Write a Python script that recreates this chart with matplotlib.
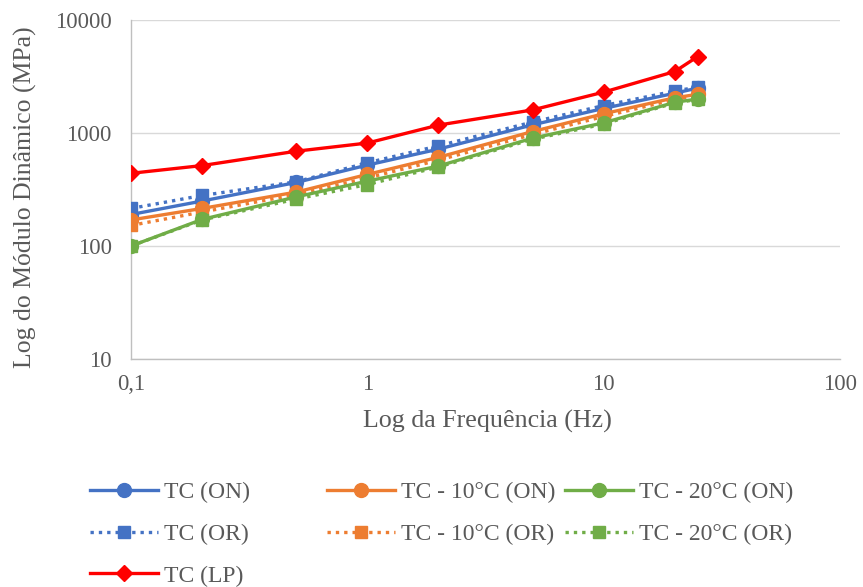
import matplotlib
matplotlib.use("Agg")
import matplotlib.pyplot as plt
from matplotlib.ticker import FixedLocator, FuncFormatter, NullLocator

# frequency (Hz) and dynamic modulus (MPa)
freq = [0.1, 0.2, 0.5, 1, 2, 5, 10, 20, 25]
tc_on = [190, 250, 365, 520, 720, 1180, 1650, 2250, 2500]
tc10_on = [170, 215, 300, 430, 610, 1030, 1480, 2050, 2200]
tc20_on = [100, 172, 272, 375, 510, 900, 1230, 1870, 2000]
tc_or = [215, 280, 370, 545, 770, 1250, 1750, 2350, 2550]
tc10_or = [152, 200, 285, 400, 575, 970, 1400, 1980, 2150]
tc20_or = [100, 170, 260, 350, 500, 880, 1200, 1850, 1980]
tc_lp = [440, 515, 690, 815, 1175, 1600, 2300, 3500, 4750]

x_ticks = [0.1, 1, 10, 100]
y_ticks = [10, 100, 1000, 10000]

BLUE, ORANGE, GREEN, RED = "#4472C4", "#ED7D31", "#70AD47", "#FF0000"
TXT = "#595959"
plt.rcParams["font.family"] = ["Liberation Serif", "DejaVu Serif"]

W, H = 863, 587
fig = plt.figure(figsize=(W / 100, H / 100), dpi=100)
ax = fig.add_axes([131 / W, 1 - 359 / H, (840 - 131) / W, (359 - 20) / H])

dot = (0, (1, 1.5))
series = [
    ("TC (OR)", tc_or, BLUE, "s", dot, 3),
    ("TC - 10°C (OR)", tc10_or, ORANGE, "s", dot, 3),
    ("TC - 20°C (OR)", tc20_or, GREEN, "s", dot, 3),
    ("TC (ON)", tc_on, BLUE, "o", "-", 4),
    ("TC - 10°C (ON)", tc10_on, ORANGE, "o", "-", 4),
    ("TC - 20°C (ON)", tc20_on, GREEN, "o", "-", 4),
    ("TC (LP)", tc_lp, RED, "D", "-", 5),
]
lines = {}
for name, vals, c, m, ls, z in series:
    ms = 10 if m == "o" else (9 if m == "s" else 8)
    (ln,) = ax.plot(freq, vals, color=c, marker=m, linestyle=ls, linewidth=2.4,
                    markersize=ms, label=name, zorder=z)
    lines[name] = ln

ax.set_xscale("log")
ax.set_yscale("log")
ax.set_xlim(0.1, 100)
ax.set_ylim(10, 10000)
ax.xaxis.set_major_locator(FixedLocator(x_ticks))
ax.yaxis.set_major_locator(FixedLocator(y_ticks))
ax.xaxis.set_minor_locator(NullLocator())
ax.yaxis.set_minor_locator(NullLocator())
ax.xaxis.set_major_formatter(FuncFormatter(lambda v, p: f"{v:g}".replace(".", ",")))
ax.yaxis.set_major_formatter(FuncFormatter(lambda v, p: f"{v:g}"))
ax.tick_params(length=0, labelsize=16.4, labelcolor=TXT)
ax.tick_params(axis="y", pad=14)
ax.tick_params(axis="x", pad=11)

ax.grid(axis="y", color="#D9D9D9", linewidth=1)
ax.set_axisbelow(True)
for s in ("top", "right"):
    ax.spines[s].set_visible(False)
for s in ("left", "bottom"):
    ax.spines[s].set_color("#BFBFBF")
    ax.spines[s].set_linewidth(1)

ax.set_xlabel("Log da Frequência (Hz)", fontsize=18.7, color=TXT)
ax.set_ylabel("Log do Módulo Dinâmico (MPa)", fontsize=18.5, color=TXT)
ax.xaxis.set_label_coords(0.503, -0.15)
ax.yaxis.set_label_coords(-0.133, 0.478)

# legend: three columns laid out like the Excel chart
cols = [
    (90, ["TC (ON)", "TC (OR)", "TC (LP)"]),
    (327, ["TC - 10°C (ON)", "TC - 10°C (OR)"]),
    (565, ["TC - 20°C (ON)", "TC - 20°C (OR)"]),
]
for x0, names in cols:
    leg = fig.legend([lines[n] for n in names], names, loc="upper left",
                     bbox_to_anchor=(x0 / W, 1 - 482 / H), frameon=False,
                     fontsize=17, handlelength=2.9, handletextpad=0.25,
                     borderpad=0, borderaxespad=0, labelspacing=0.85)
    for t in leg.get_texts():
        t.set_color(TXT)

fig.savefig("out.png", dpi=100)
